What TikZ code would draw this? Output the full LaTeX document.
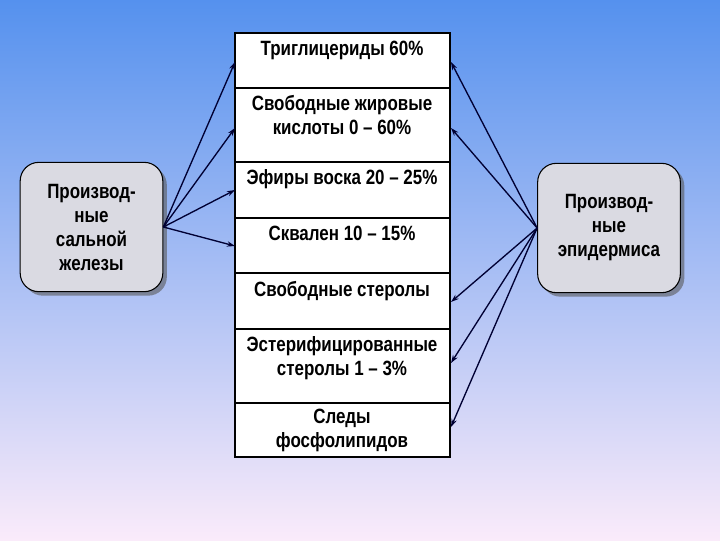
\documentclass[tikz,border=0pt]{standalone}
\usepackage{fontspec}
\setmainfont[FakeStretch=0.82]{Liberation Sans}
\usetikzlibrary{shadows,arrows.meta}
\definecolor{bgtop}{RGB}{85,145,238}
\definecolor{bgmid}{RGB}{150,195,245}
\definecolor{bgbot}{RGB}{250,235,250}
\definecolor{boxfill}{RGB}{218,218,226}
\tikzset{
  cell/.style={draw=black, fill=white, line width=0.8pt},
  ctext/.style={font=\bfseries\fontsize{15.5}{18}\selectfont, align=center, anchor=north},
  side/.style={draw=black, fill=boxfill, rounded corners=14pt, line width=0.8pt,
     drop shadow={shadow xshift=3pt, shadow yshift=-3pt, fill=gray!70!black, opacity=0.6}},
  stext/.style={font=\bfseries\fontsize{15.5}{18}\selectfont, align=center},
  arr/.style={-{Stealth[length=6pt,width=4pt]}, draw=black!80!blue, line width=1pt}
}
\begin{document}
\begin{tikzpicture}[x=0.75pt,y=-0.75pt]
\shade[top color=bgtop, middle color=bgmid, bottom color=bgbot] (0,0) rectangle (720,540);
\useasboundingbox (0,0) rectangle (720,540);
% column
\draw[cell] (235,33) rectangle (450,88);
\draw[cell] (235,88) rectangle (450,162);
\draw[cell] (235,162) rectangle (450,218);
\draw[cell] (235,218) rectangle (450,273);
\draw[cell] (235,273) rectangle (450,329);
\draw[cell] (235,329) rectangle (450,403);
\draw[cell] (235,403) rectangle (450,457);
\node[ctext] (t1) at (342,36) {Триглицериды 60\%};
\node[ctext] (t2) at (342,91) {Свободные жировые\\кислоты 0 – 60\%};
\node[ctext] (t3) at (342,165) {Эфиры воска 20 – 25\%};
\node[ctext] (t4) at (342,221) {Сквален 10 – 15\%};
\node[ctext] (t5) at (342,277) {Свободные стеролы};
\node[ctext] (t6) at (342,332) {Эстерифицированные\\стеролы 1 – 3\%};
\node[ctext] (t7) at (342,404) {Следы\\фосфолипидов};
% side boxes
\node[side, minimum width=107pt, minimum height=97pt] (L) at (91.5,227) {};
\node[stext] at (L.center) {Производ-\\ные\\сальной\\железы};
\node[side, minimum width=107pt, minimum height=97pt] (R) at (609,228) {};
\node[stext] at (R.center) {Производ-\\ные\\эпидермиса};
% connector targets
\coordinate (a1) at (235,62); \coordinate (a2) at (235,128);
\coordinate (a3) at (235,190); \coordinate (a4) at (235,246);
\coordinate (b1) at (451,62); \coordinate (b2) at (451,128);
\coordinate (b3) at (451,302); \coordinate (b4) at (451,363);
\coordinate (b5) at (451,427);
\foreach \t in {a1,a2,a3,a4} \draw[arr] (L.east) -- (\t);
\foreach \t in {b1,b2,b3,b4,b5} \draw[arr] (R.west) -- (\t);
\end{tikzpicture}
\end{document}
